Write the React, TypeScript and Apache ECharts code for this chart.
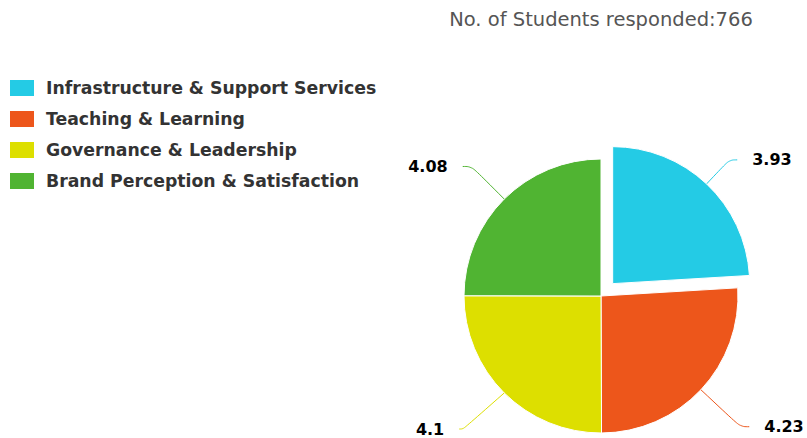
import React, { useEffect, useRef } from "react";
import * as echarts from "echarts";

const categories = [
  "Infrastructure & Support Services",
  "Teaching & Learning",
  "Governance & Leadership",
  "Brand Perception & Satisfaction",
];
const values = [3.93, 4.23, 4.1, 4.08];
const colors = ["#24CBE5", "#ED561B", "#DDDF00", "#50B432"];
const titleText = "No. of Students responded:766";
const selectedIndex = 0;

const labelLines = [
  { length: 33, length2: 8 },
  { length: 54, length2: 9 },
  { length: 58, length2: 4 },
  { length: 46, length2: 9 },
];

export default function App() {
  const ref = useRef<HTMLDivElement>(null);
  useEffect(() => {
    document.body.style.margin = "0";
    const chart = echarts.init(ref.current!, undefined, { renderer: "svg" });
    chart.setOption({
      animation: false,
      color: colors,
      title: {
        text: titleText,
        left: 601,
        textAlign: "center",
        top: 9,
        padding: 0,
        textStyle: {
          fontFamily: "DejaVu Sans",
          fontSize: 19.5,
          fontWeight: "normal",
          color: "#555555",
        },
      },
      legend: {
        orient: "vertical",
        left: 8,
        top: 78,
        padding: 0,
        itemWidth: 26,
        itemHeight: 18,
        itemGap: 11,
        icon: "rect",
        selectedMode: false,
        textStyle: {
          fontFamily: "DejaVu Sans",
          fontSize: 17.3,
          fontWeight: "bold",
          color: "#333333",
          padding: [0, 0, 0, 6],
          lineHeight: 18,
        },
        data: categories,
      },
      series: [
        {
          type: "pie",
          center: [601, 296],
          radius: 137,
          startAngle: 90,
          clockwise: true,
          selectedMode: "single",
          selectedOffset: 17,
          itemStyle: { borderColor: "#ffffff", borderWidth: 1 },
          label: {
            show: true,
            formatter: "{c}",
            fontFamily: "DejaVu Sans",
            fontSize: 16,
            fontWeight: "bold",
            color: "#000000",
            distanceToLabelLine: 15,
            overflow: "none",
            bleedMargin: 0,
          },
          labelLine: {
            show: true,
            smooth: 0.4,
            lineStyle: { width: 1 },
          },
          emphasis: { disabled: true },
          data: categories.map((name, i) => ({
            name,
            value: values[i],
            selected: i === selectedIndex,
            labelLine: labelLines[i],
          })),
        },
      ],
    });
    return () => chart.dispose();
  }, []);
  return <div ref={ref} style={{ width: 807, height: 438 }} />;
}
